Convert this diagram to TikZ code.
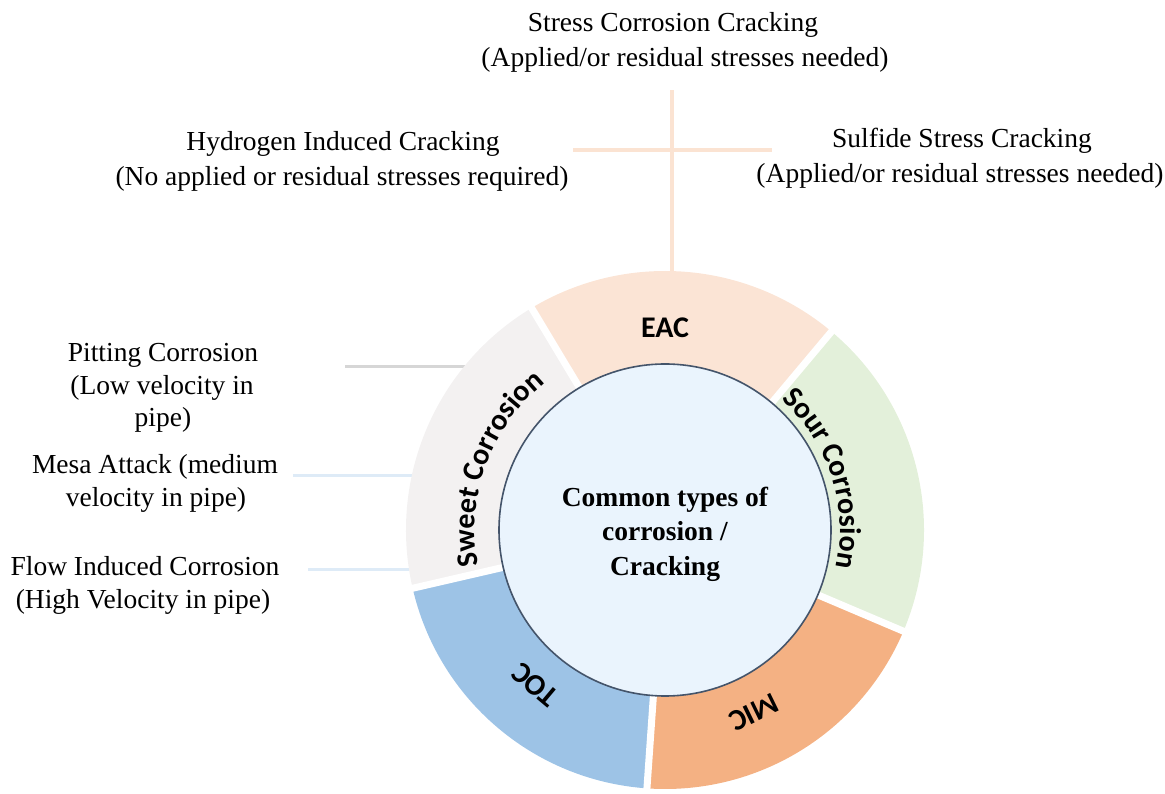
\documentclass[tikz,border=0pt]{standalone}
\usepackage{fontspec}
\setmainfont{Liberation Serif}
\newfontfamily\calib{Carlito}
\usetikzlibrary{decorations.text}
\definecolor{eacc}{HTML}{FBE4D5}
\definecolor{sweetc}{HTML}{F3F1F1}
\definecolor{tocc}{HTML}{9DC3E6}
\definecolor{micc}{HTML}{F4B183}
\definecolor{sourc}{HTML}{E3F0DA}
\definecolor{corec}{HTML}{EAF4FD}
\definecolor{coreline}{HTML}{44546A}
\definecolor{peachl}{HTML}{FBE3D2}
\definecolor{grayl}{HTML}{D6D6D6}
\definecolor{bluel}{HTML}{DEEBF7}
\begin{document}
\begin{tikzpicture}[x=1pt,y=1pt,
  lbl/.style={font=\fontsize{27.5}{34}\selectfont, anchor=base, inner sep=0pt, text=black},
  seglbl/.style={font=\calib\bfseries\fontsize{30}{30}\selectfont, inner sep=0pt, text=black},
  peachline/.style={draw=peachl, line width=3.5pt},
  grayline/.style={draw=grayl, line width=3pt},
  blueline/.style={draw=bluel, line width=3pt},
  gapline/.style={draw=white, line width=7pt}]
\useasboundingbox (0,0) rectangle (1165,793);
\coordinate (C) at (665,263);

% connector lines (drawn first, ring covers their ends)
\coordinate (vTop) at (672,703);
\coordinate (vBot) at (672,510);
\coordinate (hL) at (573,643);
\coordinate (hR) at (772,643);
\coordinate (pitA) at (345,426);
\coordinate (pitB) at (480,426);
\coordinate (mesaA) at (293,317);
\coordinate (mesaB) at (430,317);
\coordinate (flowA) at (308,223);
\coordinate (flowB) at (425,223);
\draw[peachline] (vTop) -- (vBot);
\draw[peachline] (hL) -- (hR);
\draw[grayline] (pitA) -- (pitB);
\draw[blueline] (mesaA) -- (mesaB);
\draw[blueline] (flowA) -- (flowB);

% ring segments
\foreach \a/\b/\c in {50/121/eacc, 121/193/sweetc, 193/266/tocc, 266/337/micc, 337/410/sourc}
  \fill[\c] (C) -- ([shift={(\a:259)}]C) arc[start angle=\a, end angle=\b, radius=259] -- cycle;
\foreach \a in {50,121,193,266,337}
  \draw[gapline] (C) -- ([shift={(\a:268)}]C);

% core circle
\node[circle, minimum size=332pt, inner sep=0pt, fill=corec, draw=coreline, line width=1.6pt] (core) at (C) {};
\node[align=center, inner sep=0pt, font=\bfseries\fontsize{27.5}{34.5}\selectfont] (coretext)
  at ([yshift=-4pt]C) {Common types of\\corrosion /\\Cracking};

% segment labels
\node[seglbl] (eac) at ([shift={(90:202)}]C) {EAC};
\node[seglbl, rotate=140] (toc) at ([shift={(230:202)}]C) {TOC};
\node[seglbl, rotate=206] (mic) at ([shift={(296:203)}]C) {MIC};
\path[decorate, decoration={text along path, text align=center,
    text format delimiters={|}{|},
    text={|\calib\bfseries\fontsize{30}{30}\selectfont|Sweet Corrosion}}]
  ([shift={(205:190)}]C) arc[start angle=205, end angle=115, radius=190];
\path[decorate, decoration={text along path, text align=center,
    text format delimiters={|}{|},
    text={|\calib\bfseries\fontsize{30}{30}\selectfont|Sour Corrosion}}]
  ([shift={(60:175)}]C) arc[start angle=60, end angle=-24, radius=175];

% outer text labels
\node[lbl] (sc1) at (673,761) {Stress Corrosion Cracking};
\node[lbl] (sc2) at (685,726) {(Applied/or residual stresses needed)};
\node[lbl] (hic1) at (343,642) {Hydrogen Induced Cracking};
\node[lbl] (hic2) at (342,607) {(No applied or residual stresses required)};
\node[lbl] (ssc1) at (962,645) {Sulfide Stress Cracking};
\node[lbl] (ssc2) at (960,610) {(Applied/or residual stresses needed)};
\node[lbl] (pit1) at (163,431) {Pitting Corrosion};
\node[lbl] (pit2) at (162,398) {(Low velocity in};
\node[lbl] (pit3) at (163,366) {pipe)};
\node[lbl] (mesa1) at (155,319) {Mesa Attack (medium};
\node[lbl] (mesa2) at (156,286) {velocity in pipe)};
\node[lbl] (flow1) at (145,217) {Flow Induced Corrosion};
\node[lbl] (flow2) at (143,184) {(High Velocity in pipe)};
\end{tikzpicture}
\end{document}
